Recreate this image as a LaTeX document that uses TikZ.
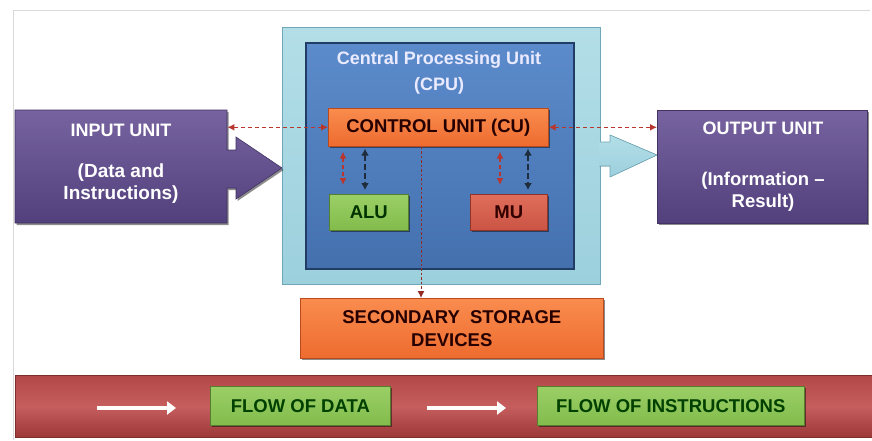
\documentclass[tikz,border=0pt]{standalone}
\usepackage{fontspec}
\setmainfont{Liberation Sans}
\usetikzlibrary{arrows.meta,shadows}
\definecolor{purT}{HTML}{76639F}
\definecolor{purB}{HTML}{52407C}
\definecolor{cyT}{HTML}{B3DEE7}
\definecolor{cyB}{HTML}{9CD0DD}
\definecolor{cyD}{HTML}{6FA7B8}
\definecolor{bluT}{HTML}{5C8BCB}
\definecolor{bluB}{HTML}{4470AE}
\definecolor{bluD}{HTML}{213D66}
\definecolor{orT}{HTML}{F98C4E}
\definecolor{orB}{HTML}{EE6B2F}
\definecolor{orD}{HTML}{B94A1E}
\definecolor{grT}{HTML}{9BCF66}
\definecolor{grB}{HTML}{82BC4C}
\definecolor{grD}{HTML}{557E2E}
\definecolor{muT}{HTML}{E06E5B}
\definecolor{muB}{HTML}{CB5444}
\definecolor{muD}{HTML}{8E3528}
\definecolor{bdT}{HTML}{B34848}
\definecolor{bdM}{HTML}{C65E5E}
\definecolor{bdB}{HTML}{9C3838}
\definecolor{redln}{HTML}{B8362E}
\definecolor{darkln}{HTML}{1E2C3C}
\definecolor{txdark}{HTML}{2C2A1E}
\begin{document}
\begin{tikzpicture}[x=1pt,y=-1pt,
  box/.style={rectangle, inner sep=0pt, anchor=north west},
  shad/.style={drop shadow={shadow xshift=1.5pt, shadow yshift=-2pt, fill=black, opacity=.45}},
  purplebox/.style={box, top color=purT, bottom color=purB, draw=purB!80!black, line width=0.6pt},
  orangebox/.style={box, top color=orT, bottom color=orB, draw=orD, line width=0.6pt},
  greenbox/.style={box, top color=grT, bottom color=grB, draw=grD, line width=0.6pt},
  redbox/.style={box, top color=muT, bottom color=muB, draw=muD, line width=0.6pt},
  wlbl/.style={text=white, font=\bfseries\fontsize{18}{22}\selectfont, align=center, inner sep=0pt},
  dlbl/.style={text=txdark, font=\bfseries\fontsize{18.5}{23}\selectfont, align=center, inner sep=0pt},
  reddash/.style={draw=redln, line width=1.4pt, dash pattern=on 4pt off 3pt, {Latex[length=7pt,width=7pt]}-{Latex[length=7pt,width=7pt]}},
  darkarr/.style={draw=darkln, line width=2pt, dash pattern=on 6pt off 3pt, {Latex[length=7pt,width=8pt]}-{Latex[length=7pt,width=8pt]}},
  whitearr/.style={draw=white!95!pink, line width=4.5pt, -{Triangle[length=9pt,width=13pt]}}
]
\useasboundingbox (0,0) rectangle (872,440);
\fill[white] (0,0) rectangle (872,440);
\draw[gray!30, line width=0.8pt] (13,440) |- (870,10);

% CPU container
\node[box, top color=cyT, bottom color=cyB, draw=cyD, line width=0.8pt, minimum width=318pt, minimum height=257pt] (cpuo) at (282,27) {};
\node[box, top color=bluT, bottom color=bluB, draw=bluD, line width=1.6pt, minimum width=268pt, minimum height=226pt] (cpui) at (305,42) {};
\node[wlbl, text=white!92!blue] (cput) at (439,60) {Central Processing Unit};
\node[wlbl, text=white!92!blue] (cpuu) at (439,86) {(CPU)};

% cyan arrow from CPU to output
\fill[top color=cyT, bottom color=cyB] (599,142) -- (610,142) -- (610,135) -- (657,155) -- (610,177) -- (610,166) -- (599,166) -- cycle;
\draw[cyD, line width=0.6pt] (600,142) -- (610,142) -- (610,135) -- (657,155) -- (610,177) -- (610,166) -- (600,166);

% input unit (box with arrow, one shape)
\node[box, minimum width=212pt, minimum height=113pt] (inp) at (15,110) {};
\draw[top color=purT, bottom color=purB, draw=purB!80!black, line width=0.6pt, shad]
  (15,110) -- (227,110) -- (227,150) -- (236,150) -- (236,137) -- (282,168) -- (236,199) -- (236,188) -- (227,188) -- (227,223) -- (15,223) -- cycle;
\node[wlbl] (inpt) at (121,130) {INPUT UNIT};
\node[wlbl, font=\bfseries\fontsize{19}{22}\selectfont] (inpd) at (121,184) {(Data and\\Instructions)};

% output unit
\node[purplebox, shad, minimum width=210pt, minimum height=113pt] (outp) at (657,110) {};
\node[wlbl] (outt) at (763,128) {OUTPUT UNIT};
\node[wlbl, font=\bfseries\fontsize{18.5}{22}\selectfont] (outd) at (763,192) {(Information --\\Result)};

% CU, ALU, MU
\node[orangebox, shad, minimum width=220pt, minimum height=38pt] (cu) at (328,108) {};
\node[dlbl, text=black!85!red] (cut) at (cu.center) {CONTROL UNIT (CU)};
\node[greenbox, shad, minimum width=79pt, minimum height=36pt] (alu) at (329,194) {};
\node[dlbl, text=black!80!green] (alut) at (alu.center) {ALU};
\node[redbox, shad, minimum width=77pt, minimum height=36pt] (mu) at (470,194) {};
\node[dlbl, text=black!80!red] (mut) at (mu.center) {MU};

% secondary storage
\node[orangebox, shad, minimum width=303pt, minimum height=60pt] (sec) at (300,298) {};
\node[dlbl, text=black!85!red] (sect) at (sec.center) {SECONDARY\ \ STORAGE\\DEVICES};

% connectors
\draw[reddash] (cu.west) -- (cu.west -| inp.east);
\draw[reddash] (cu.east) -- (cu.east -| outp.west);
\draw[reddash, shorten <=5pt, shorten >=9pt] ([xshift=14pt]alu.north west |- cu.south) -- ([xshift=14pt]alu.north west);
\draw[darkarr, shorten <=2pt, shorten >=4pt] ([xshift=36pt]alu.north west |- cu.south) -- ([xshift=36pt]alu.north west);
\draw[reddash, shorten <=5pt, shorten >=9pt] ([xshift=30pt]mu.north west |- cu.south) -- ([xshift=30pt]mu.north west);
\draw[darkarr, shorten <=2pt, shorten >=4pt] ([xshift=58pt]mu.north west |- cu.south) -- ([xshift=58pt]mu.north west);
\draw[draw=redln!80!black, line width=1pt, dash pattern=on 2.5pt off 2pt, -{Latex[length=7pt,width=7pt]}] ([xshift=93pt]cu.south west) -- ([xshift=93pt]cu.south west |- sec.north);

% legend band
\node[box, top color=bdT, bottom color=bdB, middle color=bdM, draw=bdB!80!black, line width=0.6pt, minimum width=857pt, minimum height=62pt] (band) at (15,375) {};
\coordinate (a1s) at (97,408);
\coordinate (a1e) at (176,408);
\coordinate (a2s) at (427,408);
\coordinate (a2e) at (506,408);
\draw[whitearr] (a1s) -- (a1e);
\draw[whitearr] (a2s) -- (a2e);
\node[greenbox, shad, minimum width=180pt, minimum height=39pt] (fd) at (210,386) {};
\node[dlbl, text=black!75!green] (fdt) at (fd.center) {FLOW OF DATA};
\node[greenbox, shad, minimum width=267pt, minimum height=39pt] (fi) at (537,386) {};
\node[dlbl, text=black!75!green] (fit) at (fi.center) {FLOW OF INSTRUCTIONS};
\end{tikzpicture}
\end{document}
